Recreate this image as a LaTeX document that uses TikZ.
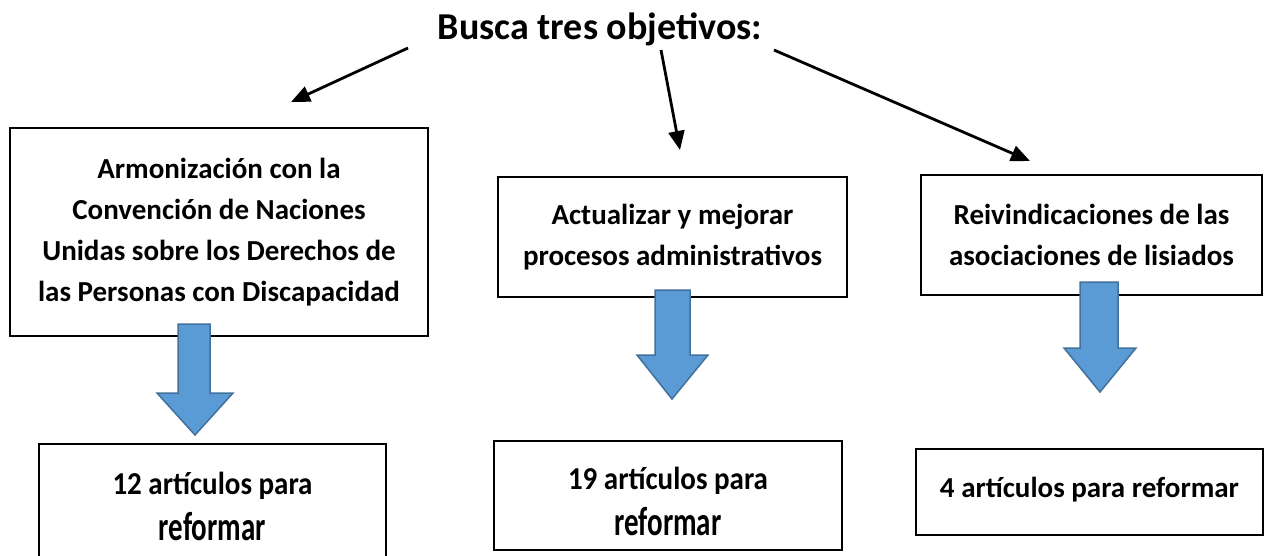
\documentclass[tikz,border=0pt]{standalone}
\usepackage{fontspec}
\usepackage{graphicx}
\setmainfont{Carlito}
\usetikzlibrary{arrows.meta}
\definecolor{arrfill}{RGB}{91,155,213}
\definecolor{arrline}{RGB}{65,113,156}
\newcommand{\tallA}[1]{\scalebox{1}[1.1]{#1}}
\newcommand{\tallB}[1]{\scalebox{1}[1.4]{#1}}
\begin{document}
\begin{tikzpicture}[x=1pt,y=-1pt,
  txt/.style={font=\fontsize{29}{41}\selectfont\bfseries, align=center, inner sep=0pt},
  restxt/.style={font=\fontsize{29}{46}\selectfont\bfseries, align=center, inner sep=0pt},
  box/.style={draw, line width=1.8pt, txt},
  frame/.style={draw, line width=1.8pt, inner sep=0pt},
  conn/.style={line width=2.8pt, -{Triangle[length=19pt,width=16pt]}},
  blockarrow/.style={fill=arrfill, draw=arrline, line width=1.5pt, line join=miter}]
\useasboundingbox (0,0) rectangle (1266,555);
\fill[white] (0,0) rectangle (1266,555);

% title
\node[font=\fontsize{38}{46}\selectfont\bfseries, anchor=base, inner sep=0pt] (title) at (600,39) {Busca tres objetivos:};

% goal boxes
\node[box, minimum width=418pt, minimum height=208pt] (g1) at (219,232)
  {Armonización con la\\Convención de Naciones\\Unidas sobre los Derechos de\\las Personas con Discapacidad};
\node[box, minimum width=349pt, minimum height=120pt] (g2) at (672.5,237)
  {Actualizar y mejorar\\procesos administrativos};
\node[box, minimum width=341pt, minimum height=120pt] (g3) at (1091.5,235)
  {Reivindicaciones de las\\asociaciones de lisiados};

% block arrows
\draw[blockarrow] (178,324) -- (210,324) -- (210,393) -- (233,393) -- (195,435) -- (157,393) -- (178,393) -- cycle;
\draw[blockarrow] (655,290) -- (690,290) -- (690,355) -- (708,355) -- (672,399) -- (637,355) -- (655,355) -- cycle;
\draw[blockarrow] (1080,282) -- (1118,282) -- (1118,348) -- (1136,348) -- (1100,392) -- (1064,348) -- (1080,348) -- cycle;

% result boxes
\node[frame, minimum width=347pt, minimum height=122pt] (r1) at (212.5,505) {};
\node[restxt] (r1t) at ([yshift=-1pt]r1.center) {\tallA{12 artículos para}\\\tallB{reformar}};
\node[frame, minimum width=348pt, minimum height=109pt] (r2) at (668,495.5) {};
\node[restxt] (r2t) at ([yshift=-6pt]r2.center) {\tallA{19 artículos para}\\\tallB{reformar}};
\node[frame, minimum width=347pt, minimum height=86pt] (r3) at (1089.5,492) {};
\node[restxt] (r3t) at ([yshift=2pt]r3.center) {4 artículos para reformar};

% connectors
\coordinate (s1) at (408,48);
\coordinate (e1) at (291,102);
\coordinate (s2) at (661,50);
\coordinate (e2) at (680,150);
\coordinate (s3) at (774,50);
\coordinate (e3) at (1030,161);
\draw[conn] (s1) -- (e1);
\draw[conn] (s2) -- (e2);
\draw[conn] (s3) -- (e3);
\end{tikzpicture}
\end{document}
